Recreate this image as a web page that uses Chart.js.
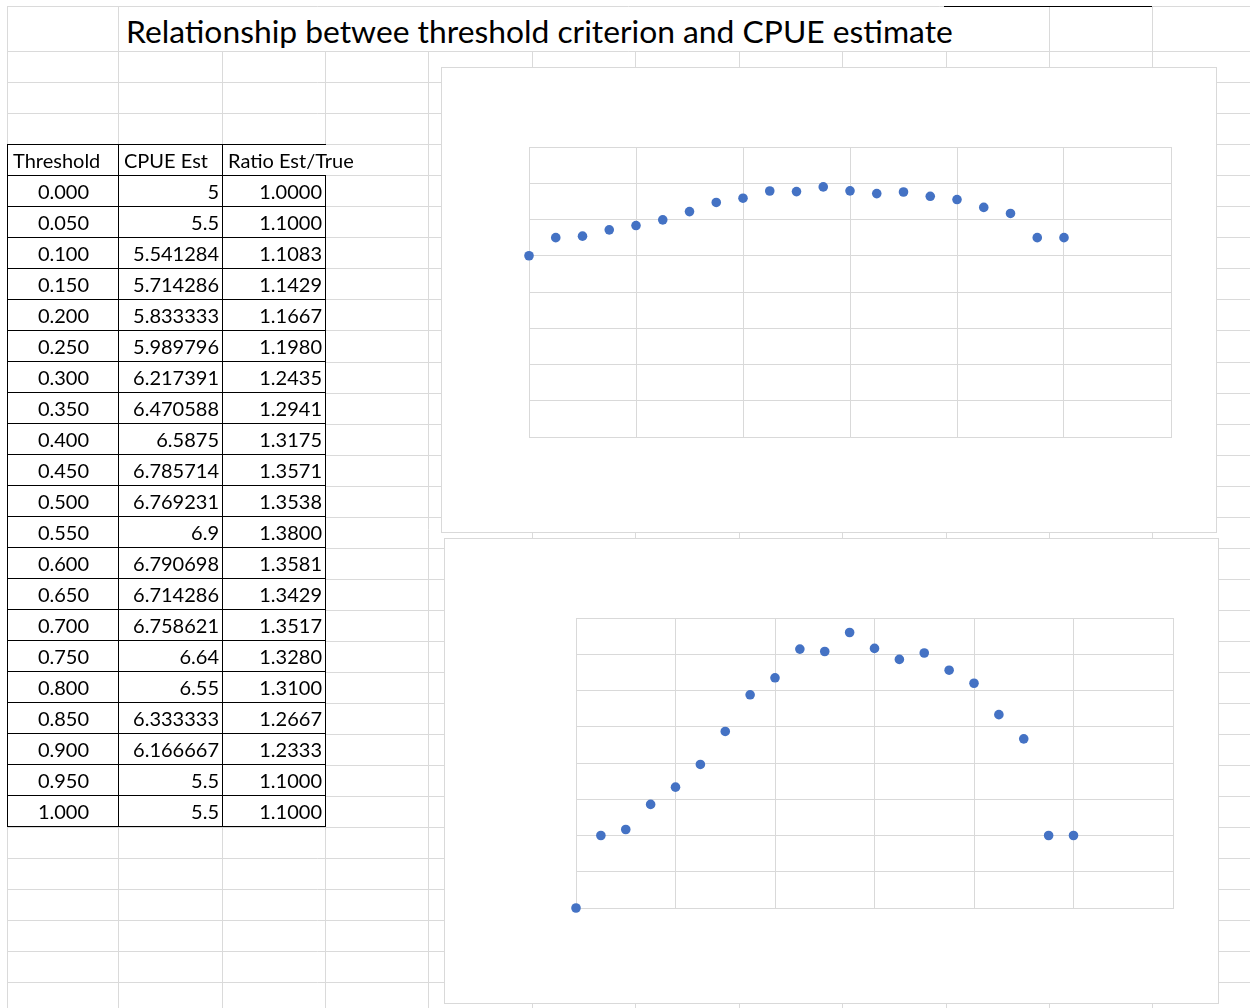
<!DOCTYPE html>
<html>
<head>
<meta charset="utf-8">
<script src="https://cdn.jsdelivr.net/npm/chart.js@4/dist/chart.umd.min.js"></script>
<style>
  html, body { margin: 0; padding: 0; background: #fff; }
  body { width: 1250px; height: 1008px; position: relative; overflow: hidden; font-family: Lato, "Liberation Sans", sans-serif; }
  #sheet { position: absolute; left: 0; top: 0; }
  #title { position: absolute; left: 126px; top: 12px; font-size: 31.8px; color: #000; white-space: nowrap; background: #fff; }
  #tbl { position: absolute; left: 7px; top: 144px; width: 318px; border-collapse: collapse; table-layout: fixed; font-size: 20px; background: #fff; }
  #tbl td { border: 1px solid #000; height: 30px; padding: 0 4px 0 5px; white-space: nowrap; overflow: visible; line-height: 20px; }
  #tbl td.c { text-align: center; }
  #tbl td.r { text-align: right; padding-right: 3px; }
  #tbl tr.head td { padding-left: 5px; }
  #tbl tr.head td.last { border-right: none; }
  .box { position: absolute; box-sizing: border-box; border: 1px solid #d9d9d9; background: #fff; }
</style>
</head>
<body>
<canvas id="sheet" width="1250" height="1008"></canvas>
<div id="title">Relationship betwee threshold criterion and CPUE estimate</div>
<table id="tbl">
  <colgroup><col style="width:111px"><col style="width:104px"><col style="width:103px"></colgroup>
  <tbody id="tbody"></tbody>
</table>
<div class="box" style="left:441px; top:67px; width:776px; height:466px;">
  <canvas id="chart1" width="774" height="464"></canvas>
</div>
<div class="box" style="left:444px; top:538px; width:775px; height:466px;">
  <canvas id="chart2" width="773" height="464"></canvas>
</div>
<script>
// table / chart data
const thresholds = [0, 0.05, 0.1, 0.15, 0.2, 0.25, 0.3, 0.35, 0.4, 0.45, 0.5,
                    0.55, 0.6, 0.65, 0.7, 0.75, 0.8, 0.85, 0.9, 0.95, 1];
const cpueEst = [5, 5.5, 5.541284, 5.714286, 5.833333, 5.989796, 6.217391, 6.470588, 6.5875, 6.785714, 6.769231,
                 6.9, 6.790698, 6.714286, 6.758621, 6.64, 6.55, 6.333333, 6.166667, 5.5, 5.5];
const ratioEst = [1.0, 1.1, 1.1083, 1.1429, 1.1667, 1.198, 1.2435, 1.2941, 1.3175, 1.3571, 1.3538,
                  1.38, 1.3581, 1.3429, 1.3517, 1.328, 1.31, 1.2667, 1.2333, 1.1, 1.1];
const headers = ["Threshold", "CPUE Est", "Ratio Est/True"];

// spreadsheet gridlines
const sheet = document.getElementById("sheet").getContext("2d");
const colX = [7, 118, 222, 325, 428, 532, 635, 739, 842, 946, 1049, 1152];
const rowY = [6, 51];
for (let y = 51; y < 1008; y += 31.05) rowY.push(y);
sheet.strokeStyle = "#dadada";
sheet.lineWidth = 1;
rowY.forEach(y => {
  const yy = Math.round(y) + 0.5;
  sheet.beginPath(); sheet.moveTo(7, yy); sheet.lineTo(1250, yy); sheet.stroke();
});
colX.forEach(x => {
  const top = (x > 118 && x < 1049) ? 51 : 6;
  sheet.beginPath(); sheet.moveTo(x + 0.5, top); sheet.lineTo(x + 0.5, 1008); sheet.stroke();
});
sheet.strokeStyle = "#000";
sheet.beginPath(); sheet.moveTo(944, 6.5); sheet.lineTo(1152, 6.5); sheet.stroke();

// data table
const tbody = document.getElementById("tbody");
tbody.innerHTML = `<tr class="head"><td>${headers[0]}</td><td>${headers[1]}</td><td class="last">${headers[2]}</td></tr>`;
thresholds.forEach((t, i) => {
  tbody.innerHTML += `
    <tr>
      <td class="c">${t.toFixed(3)}</td>
      <td class="r">${cpueEst[i]}</td>
      <td class="r">${ratioEst[i].toFixed(4)}</td>
    </tr>`;
});

function scatterChart(id, yValues, yMin, yMax, yStep, pad) {
  const ctx = document.getElementById(id).getContext("2d");
  return new Chart(ctx, {
    type: "scatter",
    data: {
      datasets: [{
        data: thresholds.map((t, i) => ({ x: t, y: yValues[i] })),
        backgroundColor: "#4472C4",
        borderWidth: 0,
        pointRadius: 4.8,
        clip: false
      }]
    },
    options: {
      responsive: false,
      animation: false,
      layout: { padding: pad },
      plugins: { legend: { display: false }, tooltip: { enabled: false } },
      scales: {
        x: {
          type: "linear", min: 0, max: 1.2,
          ticks: { display: false, stepSize: 0.2 },
          grid: { color: "#d9d9d9", drawTicks: false },
          border: { color: "#d9d9d9" }
        },
        y: {
          min: yMin, max: yMax,
          ticks: { display: false, stepSize: yStep },
          grid: { color: "#d9d9d9", drawTicks: false },
          border: { color: "#d9d9d9" }
        }
      }
    }
  });
}

scatterChart("chart1", cpueEst, 0, 8, 1, { left: 87, right: 45, top: 79, bottom: 95 });
scatterChart("chart2", ratioEst, 1, 1.4, 0.05, { left: 131, right: 45, top: 79, bottom: 95 });
</script>
</body>
</html>
